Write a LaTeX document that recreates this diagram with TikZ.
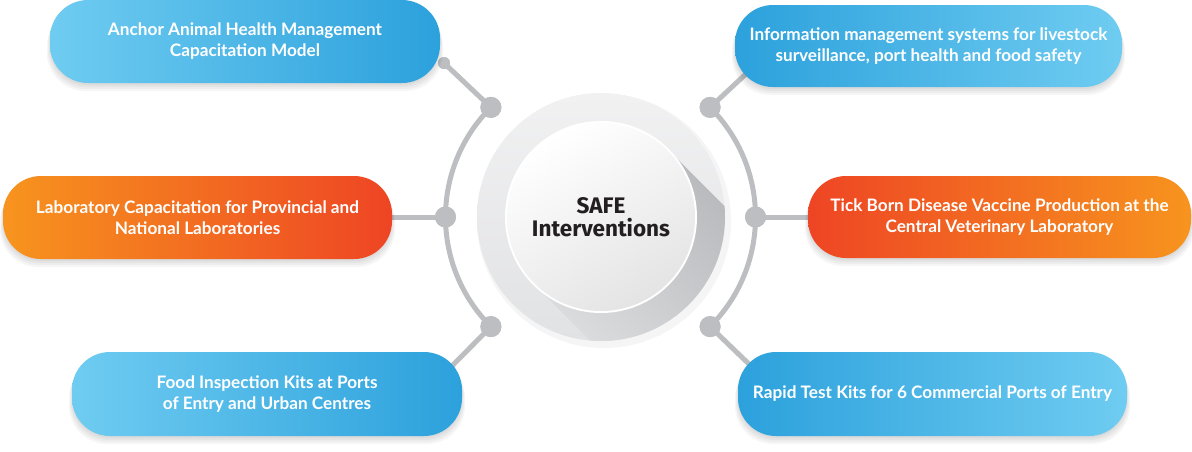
\documentclass[tikz,border=0pt]{standalone}
\usepackage{fontspec}
\setmainfont{Lato}
\newfontfamily\safefont{Fira Sans}
\usetikzlibrary{calc}
\definecolor{bluelight}{HTML}{6FCCF1}
\definecolor{bluedark}{HTML}{2CA1DC}
\definecolor{orangeA}{HTML}{F7941E}
\definecolor{redA}{HTML}{EE4524}
\definecolor{linegray}{HTML}{BDBEC1}
\definecolor{ringtop}{HTML}{F1F1F2}
\definecolor{ringbot}{HTML}{E1E2E4}
\definecolor{shadowdark}{HTML}{B3B4B7}
\definecolor{innergray}{HTML}{E4E4E5}
\definecolor{textdark}{HTML}{231F20}
\newcommand\shadowpill[4]{%
  \foreach \s/\e in {2/0,4/1,6/2,8/3}{%
    \fill[black, fill opacity=0.035, rounded corners=38pt] (#1-\e,#2+\s) rectangle (#3+\e,#4+\s);}}
\begin{document}
\begin{tikzpicture}[x=1pt,y=-1pt,
  pill/.style={rounded corners=38pt, inner sep=0pt, align=center, text=white,
    font=\fontsize{17.2}{21}\selectfont\bfseries},
  bluel/.style={pill, left color=bluelight, right color=bluedark},
  bluer/.style={pill, left color=bluedark, right color=bluelight},
  orl/.style={pill, left color=orangeA, right color=redA},
  orr/.style={pill, left color=redA, right color=orangeA},
  link/.style={draw=linegray, line width=5pt},
  bigdot/.style={circle, fill=linegray, minimum size=21pt, inner sep=0pt},
  smalldot/.style={circle, fill=linegray, minimum size=12pt, inner sep=0pt},
  centertext/.style={align=center, text=textdark, font=\safefont\bfseries\fontsize{22.5}{23.5}\selectfont}
]
\useasboundingbox (0,0) rectangle (1192,451);
\fill[white] (0,0) rectangle (1192,451);

% ---- centre disc ----
\coordinate (c) at (601,217);
\coordinate (ac) at (600.5,217);
\fill[black, fill opacity=0.04] ($(c)+(3,4)$) circle (127);
\shade[top color=ringtop, bottom color=ringbot] (c) circle (124);
\begin{scope}
  \clip (c) circle (124);
  \shade[left color=shadowdark, right color=ringbot, shading angle=-45]
    ($(c)+(-45:95)$) -- ++(140,140) -- ($(c)+(135:95)+(140,140)$) -- ($(c)+(135:95)$) -- cycle;
\end{scope}
\fill[white] (c) circle (96);
\shade[top color=white, bottom color=innergray, shading angle=30] (c) circle (94);
\node[centertext] (safe) at (601,217) {SAFE\\Interventions};

% ---- dots on the arcs ----
\node[bigdot] (d1) at (490.9,107.4) {};
\node[bigdot] (d2) at (710.1,107.4) {};
\node[bigdot] (d3) at (445.5,217) {};
\node[bigdot] (d4) at (755.5,217) {};
\node[bigdot] (d5) at (490.9,326.6) {};
\node[bigdot] (d6) at (710.1,326.6) {};
\node[smalldot] (s1) at (444,63) {};
\coordinate (e2) at (748,72);
\coordinate (e3) at (380,217);
\coordinate (e4) at (825,217);
\coordinate (e5) at (450,368);
\coordinate (e6) at (752,367);

\draw[link] (ac) ++(225:155) arc[start angle=225, end angle=135, radius=155];
\draw[link] (ac) ++(-45:155) arc[start angle=-45, end angle=45, radius=155];
\draw[link] (d1.center) -- (s1.center);
\draw[link] (d2.center) -- (e2);
\draw[link] (d3.center) -- (e3);
\draw[link] (d4.center) -- (e4);
\draw[link] (d5.center) -- (e5);
\draw[link] (d6.center) -- (e6);
\node[bigdot] at (d1) {};
\node[bigdot] at (d2) {};
\node[bigdot] at (d3) {};
\node[bigdot] at (d4) {};
\node[bigdot] at (d5) {};
\node[bigdot] at (d6) {};
\node[smalldot] at (s1) {};

% ---- boxes ----
\shadowpill{50}{0}{440}{83}
\node[bluel, minimum width=390pt, minimum height=83pt] (b1) at (245,41.5)
  {Anchor Animal Health Management\\Capacitation Model};
\shadowpill{735}{5}{1122}{87}
\node[bluer, minimum width=387pt, minimum height=82pt] (b2) at (928.5,46)
  {Information management systems for livestock\\surveillance, port health and food safety};
\shadowpill{3}{176}{392}{259}
\node[orl, minimum width=389pt, minimum height=83pt] (b3) at (197.5,217.5)
  {Laboratory Capacitation for Provincial and\\National Laboratories};
\shadowpill{808}{176}{1191}{258}
\node[orr, minimum width=383pt, minimum height=82pt] (b4) at (999.5,217)
  {Tick Born Disease Vaccine Production at the\\Central Veterinary Laboratory};
\shadowpill{72}{352}{462}{436}
\node[bluel, minimum width=390pt, minimum height=84pt] (b5) at (267,394)
  {Food Inspection Kits at Ports\\of Entry and Urban Centres};
\shadowpill{738}{352}{1127}{436}
\node[bluer, minimum width=389pt, minimum height=84pt] (b6) at (932.5,394)
  {Rapid Test Kits for 6 Commercial Ports of Entry};
\end{tikzpicture}
\end{document}
